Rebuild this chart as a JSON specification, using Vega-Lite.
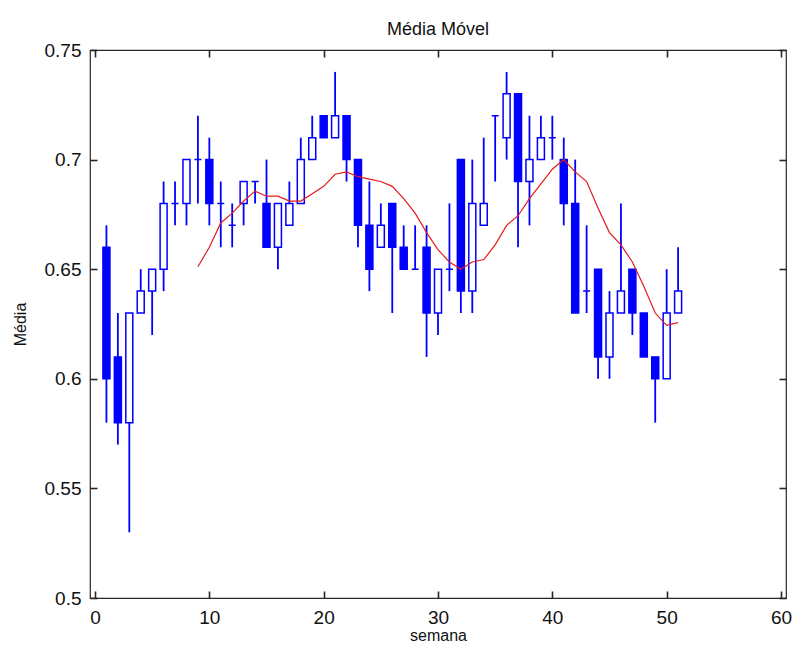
{
  "$schema": "https://vega.github.io/schema/vega-lite/v6.json",
  "autosize": {"type": "none"},
  "padding": {"left": 90, "top": 50, "right": 10, "bottom": 52},
  "width": 696,
  "height": 548,
  "background": "white",
  "title": {"text": "Média Móvel", "fontSize": 18, "font": "Liberation Sans", "fontWeight": "normal", "color": "#111", "offset": 2, "anchor": "middle"},
  "config": {
    "view": {"stroke": "#262626", "strokeWidth": 1.2},
    "axis": {"labelFont": "Liberation Sans", "titleFont": "Liberation Sans", "labelColor": "#111", "titleColor": "#111", "domainColor": "#262626", "ticks": true, "tickColor": "#262626", "tickWidth": 1.6, "tickOpacity": 1, "grid": false, "titleFontWeight": "normal"}
  },
  "datasets": {
    "candles": [
      {"week": 1, "open": 0.66, "high": 0.67, "low": 0.58, "close": 0.60, "dir": "down"},
      {"week": 2, "open": 0.61, "high": 0.63, "low": 0.57, "close": 0.58, "dir": "down"},
      {"week": 3, "open": 0.58, "high": 0.63, "low": 0.53, "close": 0.63, "dir": "up"},
      {"week": 4, "open": 0.63, "high": 0.65, "low": 0.63, "close": 0.64, "dir": "up"},
      {"week": 5, "open": 0.64, "high": 0.65, "low": 0.62, "close": 0.65, "dir": "up"},
      {"week": 6, "open": 0.65, "high": 0.69, "low": 0.64, "close": 0.68, "dir": "up"},
      {"week": 7, "open": 0.68, "high": 0.69, "low": 0.67, "close": 0.68, "dir": "up"},
      {"week": 8, "open": 0.68, "high": 0.70, "low": 0.67, "close": 0.70, "dir": "up"},
      {"week": 9, "open": 0.70, "high": 0.72, "low": 0.68, "close": 0.70, "dir": "up"},
      {"week": 10, "open": 0.70, "high": 0.71, "low": 0.67, "close": 0.68, "dir": "down"},
      {"week": 11, "open": 0.68, "high": 0.69, "low": 0.66, "close": 0.68, "dir": "up"},
      {"week": 12, "open": 0.67, "high": 0.68, "low": 0.66, "close": 0.67, "dir": "up"},
      {"week": 13, "open": 0.68, "high": 0.69, "low": 0.67, "close": 0.69, "dir": "up"},
      {"week": 14, "open": 0.69, "high": 0.69, "low": 0.68, "close": 0.69, "dir": "up"},
      {"week": 15, "open": 0.68, "high": 0.70, "low": 0.66, "close": 0.66, "dir": "down"},
      {"week": 16, "open": 0.66, "high": 0.68, "low": 0.65, "close": 0.68, "dir": "up"},
      {"week": 17, "open": 0.67, "high": 0.69, "low": 0.67, "close": 0.68, "dir": "up"},
      {"week": 18, "open": 0.68, "high": 0.71, "low": 0.68, "close": 0.70, "dir": "up"},
      {"week": 19, "open": 0.70, "high": 0.72, "low": 0.70, "close": 0.71, "dir": "up"},
      {"week": 20, "open": 0.72, "high": 0.72, "low": 0.71, "close": 0.71, "dir": "down"},
      {"week": 21, "open": 0.71, "high": 0.74, "low": 0.71, "close": 0.72, "dir": "up"},
      {"week": 22, "open": 0.72, "high": 0.72, "low": 0.69, "close": 0.70, "dir": "down"},
      {"week": 23, "open": 0.70, "high": 0.70, "low": 0.66, "close": 0.67, "dir": "down"},
      {"week": 24, "open": 0.67, "high": 0.69, "low": 0.64, "close": 0.65, "dir": "down"},
      {"week": 25, "open": 0.66, "high": 0.68, "low": 0.66, "close": 0.67, "dir": "up"},
      {"week": 26, "open": 0.68, "high": 0.68, "low": 0.63, "close": 0.66, "dir": "down"},
      {"week": 27, "open": 0.66, "high": 0.67, "low": 0.65, "close": 0.65, "dir": "down"},
      {"week": 28, "open": 0.65, "high": 0.67, "low": 0.65, "close": 0.65, "dir": "up"},
      {"week": 29, "open": 0.66, "high": 0.67, "low": 0.61, "close": 0.63, "dir": "down"},
      {"week": 30, "open": 0.63, "high": 0.65, "low": 0.62, "close": 0.65, "dir": "up"},
      {"week": 31, "open": 0.65, "high": 0.68, "low": 0.64, "close": 0.65, "dir": "up"},
      {"week": 32, "open": 0.70, "high": 0.70, "low": 0.63, "close": 0.64, "dir": "down"},
      {"week": 33, "open": 0.64, "high": 0.70, "low": 0.63, "close": 0.68, "dir": "up"},
      {"week": 34, "open": 0.67, "high": 0.71, "low": 0.67, "close": 0.68, "dir": "up"},
      {"week": 35, "open": 0.72, "high": 0.72, "low": 0.69, "close": 0.72, "dir": "up"},
      {"week": 36, "open": 0.71, "high": 0.74, "low": 0.70, "close": 0.73, "dir": "up"},
      {"week": 37, "open": 0.73, "high": 0.73, "low": 0.66, "close": 0.69, "dir": "down"},
      {"week": 38, "open": 0.69, "high": 0.72, "low": 0.67, "close": 0.70, "dir": "up"},
      {"week": 39, "open": 0.70, "high": 0.72, "low": 0.70, "close": 0.71, "dir": "up"},
      {"week": 40, "open": 0.71, "high": 0.72, "low": 0.70, "close": 0.71, "dir": "up"},
      {"week": 41, "open": 0.70, "high": 0.71, "low": 0.67, "close": 0.68, "dir": "down"},
      {"week": 42, "open": 0.68, "high": 0.70, "low": 0.63, "close": 0.63, "dir": "down"},
      {"week": 43, "open": 0.64, "high": 0.67, "low": 0.63, "close": 0.64, "dir": "up"},
      {"week": 44, "open": 0.65, "high": 0.65, "low": 0.60, "close": 0.61, "dir": "down"},
      {"week": 45, "open": 0.61, "high": 0.64, "low": 0.60, "close": 0.63, "dir": "up"},
      {"week": 46, "open": 0.63, "high": 0.68, "low": 0.63, "close": 0.64, "dir": "up"},
      {"week": 47, "open": 0.65, "high": 0.65, "low": 0.62, "close": 0.63, "dir": "down"},
      {"week": 48, "open": 0.63, "high": 0.63, "low": 0.61, "close": 0.61, "dir": "down"},
      {"week": 49, "open": 0.61, "high": 0.61, "low": 0.58, "close": 0.60, "dir": "down"},
      {"week": 50, "open": 0.60, "high": 0.65, "low": 0.60, "close": 0.63, "dir": "up"},
      {"week": 51, "open": 0.63, "high": 0.66, "low": 0.63, "close": 0.64, "dir": "up"}
    ],
    "ma": [
      {"week": 9, "ma": 0.6511}, {"week": 10, "ma": 0.6600}, {"week": 11, "ma": 0.6711},
      {"week": 12, "ma": 0.6756}, {"week": 13, "ma": 0.6811}, {"week": 14, "ma": 0.6856},
      {"week": 15, "ma": 0.6833}, {"week": 16, "ma": 0.6833}, {"week": 17, "ma": 0.6811},
      {"week": 18, "ma": 0.6811}, {"week": 19, "ma": 0.6844}, {"week": 20, "ma": 0.6878},
      {"week": 21, "ma": 0.6933}, {"week": 22, "ma": 0.6944}, {"week": 23, "ma": 0.6922},
      {"week": 24, "ma": 0.6911}, {"week": 25, "ma": 0.6900}, {"week": 26, "ma": 0.6878},
      {"week": 27, "ma": 0.6822}, {"week": 28, "ma": 0.6756}, {"week": 29, "ma": 0.6667},
      {"week": 30, "ma": 0.6589}, {"week": 31, "ma": 0.6533}, {"week": 32, "ma": 0.6500},
      {"week": 33, "ma": 0.6533}, {"week": 34, "ma": 0.6544}, {"week": 35, "ma": 0.6611},
      {"week": 36, "ma": 0.6700}, {"week": 37, "ma": 0.6744}, {"week": 38, "ma": 0.6822},
      {"week": 39, "ma": 0.6889}, {"week": 40, "ma": 0.6956}, {"week": 41, "ma": 0.7000},
      {"week": 42, "ma": 0.6944}, {"week": 43, "ma": 0.6900}, {"week": 44, "ma": 0.6778},
      {"week": 45, "ma": 0.6667}, {"week": 46, "ma": 0.6611}, {"week": 47, "ma": 0.6533},
      {"week": 48, "ma": 0.6422}, {"week": 49, "ma": 0.6300}, {"week": 50, "ma": 0.6244},
      {"week": 51, "ma": 0.6256}
    ]
  },
  "resolve": {"axis": {"x": "independent", "y": "independent"}},
  "layer": [
    {
      "data": {"name": "candles"},
      "mark": {"type": "rule", "color": "#0000ff", "strokeWidth": 1.8},
      "encoding": {
        "x": {"field": "week", "type": "quantitative", "scale": {"domain": [0, 60], "nice": false, "zero": false},
              "axis": {"orient": "bottom", "values": [0, 10, 20, 30, 40, 50, 60], "offset": -7, "tickSize": 7, "domain": false, "labelPadding": 10, "labelFontSize": 19, "title": "semana", "titleFontSize": 16, "titlePadding": 0}},
        "y": {"field": "low", "type": "quantitative", "scale": {"domain": [0.5, 0.75], "nice": false, "zero": false},
              "axis": {"orient": "left", "values": [0.5, 0.55, 0.6, 0.65, 0.7, 0.75], "format": "~g", "offset": -7, "tickSize": 7, "domain": false, "labelPadding": 9, "labelFontSize": 19, "title": "Média", "titleFontSize": 16, "titlePadding": 16}},
        "y2": {"field": "high"}
      }
    },
    {
      "data": {"name": "candles"},
      "mark": {"type": "bar", "size": 7, "stroke": "#0000ff", "strokeWidth": 1.5},
      "encoding": {
        "x": {"field": "week", "type": "quantitative", "axis": null},
        "y": {"field": "open", "type": "quantitative", "axis": null},
        "y2": {"field": "close"},
        "fill": {"field": "dir", "type": "nominal", "scale": {"domain": ["down", "up"], "range": ["#0000ff", "#ffffff"]}, "legend": null}
      }
    },
    {
      "data": {"name": "ma"},
      "mark": {"type": "line", "color": "#e21b1b", "strokeWidth": 1.2},
      "encoding": {
        "x": {"field": "week", "type": "quantitative",
              "axis": {"orient": "top", "values": [0, 10, 20, 30, 40, 50, 60], "offset": -7, "tickSize": 7, "labels": false, "domain": false, "title": null}},
        "y": {"field": "ma", "type": "quantitative",
              "axis": {"orient": "right", "values": [0.5, 0.55, 0.6, 0.65, 0.7, 0.75], "offset": -7, "tickSize": 7, "labels": false, "domain": false, "title": null}}
      }
    }
  ]
}
